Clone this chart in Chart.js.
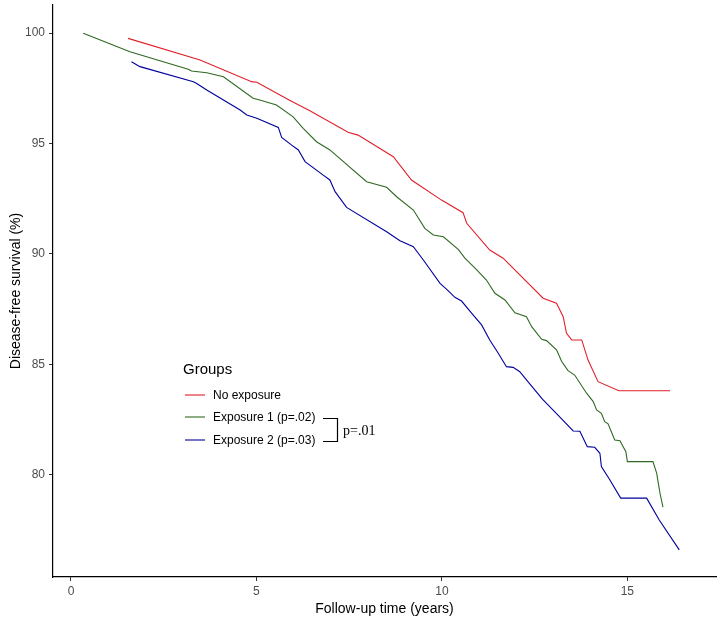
<!DOCTYPE html>
<html>
<head>
<meta charset="utf-8">
<script src="https://cdn.jsdelivr.net/npm/chart.js@4.4.1/dist/chart.umd.min.js"></script>
<style>
  html, body { margin: 0; padding: 0; background: #ffffff; }
  #wrap { position: relative; width: 718px; height: 622px; }
</style>
</head>
<body>
<div id="wrap"><canvas id="c" width="718" height="622"></canvas></div>
<script>
// ---- Data ----
const seriesNames = ["No exposure", "Exposure 1 (p=.02)", "Exposure 2 (p=.03)"];
const pValueLabel = "p=.01";
const legendTitle = "Groups";
const xTitle = "Follow-up time (years)";
const yTitle = "Disease-free survival (%)";
const xTickValues = [0, 5, 10, 15];
const yTickValues = [80, 85, 90, 95, 100];

const noExposureX = [1.54, 3.48, 4.87, 5.01, 5.88, 6.44, 7.47, 7.74, 8.69, 9.18, 9.99, 10.57, 10.67, 11.29, 11.65, 12.73, 13.09, 13.27, 13.36, 13.50, 13.77, 13.94, 14.21, 14.77, 16.15];
const noExposureY = [99.76, 98.78, 97.80, 97.77, 96.97, 96.48, 95.51, 95.38, 94.40, 93.35, 92.44, 91.87, 91.39, 90.18, 89.81, 88.00, 87.77, 87.16, 86.41, 86.11, 86.11, 85.20, 84.22, 83.81, 83.81];

const exposure1X = [0.33, 1.59, 3.16, 3.25, 3.66, 4.11, 4.91, 5.09, 5.54, 5.99, 6.26, 6.62, 6.98, 7.97, 8.51, 8.78, 9.23, 9.54, 9.77, 10.04, 10.44, 10.62, 10.94, 11.20, 11.43, 11.70, 11.97, 12.28, 12.42, 12.69, 12.82, 13.09, 13.23, 13.40, 13.58, 13.90, 14.08, 14.17, 14.30, 14.39, 14.48, 14.66, 14.80, 14.96, 15.00, 15.69, 15.79, 15.88, 15.96];
const exposure1Y = [99.99, 99.15, 98.36, 98.28, 98.20, 98.02, 97.05, 96.97, 96.74, 96.21, 95.69, 95.08, 94.71, 93.27, 93.02, 92.59, 91.99, 91.16, 90.86, 90.78, 90.21, 89.81, 89.28, 88.82, 88.22, 87.92, 87.34, 87.16, 86.71, 86.14, 86.08, 85.66, 85.13, 84.72, 84.52, 83.70, 83.32, 82.94, 82.79, 82.41, 82.31, 81.58, 81.55, 81.05, 80.60, 80.60, 80.08, 79.17, 78.54];

const exposure2X = [1.63, 1.86, 3.30, 3.39, 3.66, 4.56, 4.74, 5.01, 5.59, 5.68, 5.95, 6.13, 6.31, 6.80, 6.98, 7.12, 7.43, 8.51, 8.87, 9.23, 9.50, 9.95, 10.13, 10.35, 10.53, 10.80, 11.07, 11.29, 11.52, 11.74, 11.92, 12.10, 12.28, 12.71, 13.13, 13.54, 13.72, 13.92, 14.12, 14.26, 14.30, 14.53, 14.82, 15.52, 15.86, 16.40];
const exposure2Y = [98.70, 98.48, 97.80, 97.72, 97.42, 96.52, 96.29, 96.14, 95.73, 95.28, 94.93, 94.71, 94.18, 93.57, 93.35, 92.82, 92.11, 91.01, 90.60, 90.33, 89.73, 88.67, 88.40, 88.04, 87.87, 87.32, 86.79, 86.11, 85.51, 84.90, 84.87, 84.67, 84.30, 83.43, 82.71, 81.99, 81.98, 81.28, 81.25, 80.98, 80.38, 79.77, 78.95, 78.95, 77.96, 76.61];

const seriesColors = ["#E0202A", "#2E6A22", "#00009C"];

// ---- Build datasets ----
function toPoints(xs, ys) { return xs.map((x, i) => ({ x: x, y: ys[i] })); }
const seriesXs = [noExposureX, exposure1X, exposure2X];
const seriesYs = [noExposureY, exposure1Y, exposure2Y];
const datasets = seriesNames.map((name, i) => ({
  label: name,
  data: toPoints(seriesXs[i], seriesYs[i]),
  borderColor: seriesColors[i],
  backgroundColor: seriesColors[i],
  borderWidth: 1.1,
  pointRadius: 0,
  tension: 0,
  fill: false
}));

const FONT = "'Liberation Sans', Arial, sans-serif";

// Legend + p-value bracket drawn inside the plot area
const innerLegend = {
  id: 'innerLegend',
  afterDraw(chart) {
    const ctx = chart.ctx;
    ctx.save();
    ctx.fillStyle = '#000';
    ctx.textBaseline = 'middle';
    ctx.textAlign = 'left';
    ctx.font = "15px " + FONT;
    ctx.fillText(legendTitle, 183, 370);
    const rows = [395, 417, 440];
    ctx.font = "12px " + FONT;
    seriesNames.forEach((name, i) => {
      ctx.strokeStyle = seriesColors[i];
      ctx.lineWidth = 1.1;
      ctx.beginPath();
      ctx.moveTo(185, rows[i]);
      ctx.lineTo(205, rows[i]);
      ctx.stroke();
      ctx.fillStyle = '#000';
      ctx.fillText(name, 213, rows[i] + 0.5);
    });
    // bracket
    ctx.strokeStyle = '#000';
    ctx.lineWidth = 1.2;
    ctx.beginPath();
    ctx.moveTo(323, 418.5);
    ctx.lineTo(337.5, 418.5);
    ctx.lineTo(337.5, 441.5);
    ctx.lineTo(323, 441.5);
    ctx.stroke();
    ctx.font = "14px 'Liberation Serif', 'Times New Roman', serif";
    ctx.fillText(pValueLabel, 343, 431);
    ctx.restore();
  }
};

new Chart(document.getElementById('c'), {
  type: 'line',
  data: { datasets: datasets },
  options: {
    responsive: false,
    animation: false,
    devicePixelRatio: 1,
    layout: { padding: { left: 0, right: 2, top: 5, bottom: 0 } },
    plugins: {
      legend: { display: false },
      tooltip: { enabled: false }
    },
    scales: {
      x: {
        type: 'linear',
        min: -0.485,
        max: 17.39,
        afterBuildTicks(s) { s.ticks = xTickValues.map(v => ({ value: v })); },
        afterFit(s) { s.height = 45; s.paddingLeft = 0; s.paddingRight = 0; },
        grid: { drawOnChartArea: false, drawTicks: true, tickLength: 4, tickColor: '#333333', tickWidth: 1 },
        border: { display: true, color: '#000000', width: 1.2 },
        ticks: { color: '#4D4D4D', font: { family: FONT, size: 12 }, padding: 3, maxRotation: 0, autoSkip: false },
        title: { display: true, text: xTitle, color: '#000', font: { family: FONT, size: 14 }, padding: { top: 2, bottom: 4 } }
      },
      y: {
        type: 'linear',
        min: 75.38,
        max: 101.27,
        afterBuildTicks(s) { s.ticks = yTickValues.map(v => ({ value: v })); },
        afterFit(s) { s.width = 53; s.paddingTop = 0; s.paddingBottom = 0; },
        grid: { drawOnChartArea: false, drawTicks: true, tickLength: 4, tickColor: '#333333', tickWidth: 1 },
        border: { display: true, color: '#000000', width: 1.2 },
        ticks: { color: '#4D4D4D', font: { family: FONT, size: 12 }, padding: 4, autoSkip: false },
        title: { display: true, text: yTitle, color: '#000', font: { family: FONT, size: 14 }, padding: { top: 8, bottom: 4 } }
      }
    }
  },
  plugins: [innerLegend]
});
</script>
</body>
</html>
